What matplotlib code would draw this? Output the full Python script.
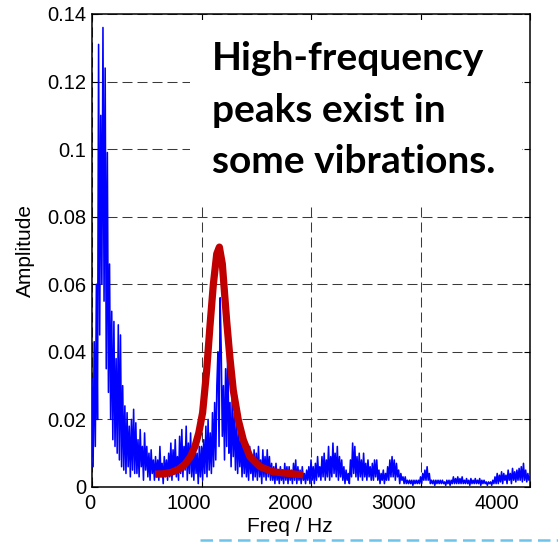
import numpy as np
import matplotlib.pyplot as plt
from matplotlib.patches import Rectangle
from matplotlib.lines import Line2D
import matplotlib.transforms as mtransforms

# spectrum, one value per 10 Hz bin, in units of 1e-3
freq_step = 10
amp_milli = [
    32, 6, 43, 12, 60, 20, 131, 45, 110, 60,
    136, 55, 124, 35, 99, 28, 66, 20, 52, 14,
    49, 12, 38, 10, 48, 8, 45, 6, 30, 5,
    24, 4, 22, 6, 18, 3, 20, 5, 23, 4,
    19, 4, 14, 3, 17, 6, 12, 2, 16, 5,
    12, 3, 10, 2, 11, 4, 8, 2, 9, 3,
    8, 2, 12, 3, 7, 1, 9, 3, 8, 2,
    10, 3, 13, 2, 11, 4, 14, 3, 9, 2,
    15, 4, 17, 3, 12, 5, 18, 2, 13, 4,
    16, 3, 11, 2, 13, 4, 10, 1, 12, 3,
    12, 2, 14, 4, 18, 3, 20, 5, 16, 4,
    22, 6, 25, 8, 30, 40, 12, 56, 40, 15,
    30, 8, 35, 12, 43, 10, 25, 6, 26, 9,
    22, 5, 20, 4, 17, 6, 15, 3, 14, 4,
    12, 3, 10, 2, 12, 4, 9, 2, 11, 3,
    10, 2, 12, 3, 8, 1, 11, 3, 9, 2,
    11, 3, 9, 2, 7, 2, 6, 1, 7, 2,
    5, 1, 6, 2, 5, 1, 7, 2, 6, 1,
    6, 2, 5, 1, 7, 2, 8, 1, 6, 2,
    5, 1, 6, 2, 4, 1, 5, 2, 6, 1,
    8, 2, 6, 1, 7, 2, 9, 3, 6, 2,
    9, 3, 10, 2, 8, 3, 12, 2, 9, 3,
    13, 4, 10, 3, 12, 2, 9, 3, 8, 2,
    6, 1, 5, 2, 4, 1, 8, 3, 13, 4,
    12, 3, 9, 2, 10, 3, 8, 2, 10, 3,
    7, 2, 8, 3, 6, 2, 7, 2, 8, 3,
    8, 2, 5, 1, 4, 2, 5, 1, 4, 2,
    6, 2, 8, 3, 9, 3, 8, 2, 7, 3,
    5, 1, 4, 2, 3, 1, 3, 1, 2, 1,
    2, 1, 2, 0.5, 2, 1, 2, 1, 2, 1,
    3, 1, 4, 2, 5, 2, 6, 2, 4, 1,
    2, 1, 2, 0.5, 2, 1, 2, 1, 2, 1,
    2, 1, 1.5, 0.5, 2, 1, 2, 0.5, 2, 1,
    3, 1, 2.5, 1, 3, 1, 2.5, 1, 3, 1,
    2, 1, 2.5, 1, 2, 0.5, 2.5, 1, 2, 1,
    2.5, 1, 2, 1, 2.5, 0.5, 2, 1, 2, 1,
    1.5, 0.5, 1.5, 1, 1.5, 0.5, 2, 1, 3, 1,
    4, 1, 3.5, 1.5, 4.5, 1, 4, 2, 3.5, 1,
    5, 2, 4, 1, 5.5, 2, 4.5, 1.5, 5, 2,
    5.5, 2, 6, 1.5, 7, 2, 5, 1.5, 4, 2,
    3,
]

# red peak outline drawn over the spectrum
red_freq = [575, 650, 720, 790, 850, 900, 940, 975, 1010, 1047, 1078, 1108,
            1139, 1163, 1190, 1230, 1260, 1290, 1336, 1382, 1443, 1534, 1653,
            1800, 1927]
red_milli = [3.8, 3.9, 4.3, 5.2, 6.8, 9, 12, 16, 22, 34.5, 48, 60,
             69, 71, 66, 49, 38, 28.6, 19.8, 13.9, 8.9, 6, 4.5,
             4.0, 3.6]

x_ticks = [0, 1000, 2000, 3000, 4000]
y_ticks = [0, 0.02, 0.04, 0.06, 0.08, 0.1, 0.12, 0.14]
y_labels = ['0', '0.02', '0.04', '0.06', '0.08', '0.1', '0.12', '0.14']
note_lines = ['High-frequency', 'peaks exist in', 'some vibrations.']

freq = np.arange(len(amp_milli)) * freq_step
amp = np.array(amp_milli) / 1000.0
red_amp = np.array(red_milli) / 1000.0

plt.rcParams['font.family'] = ['Liberation Sans', 'DejaVu Sans']

fig = plt.figure(figsize=(5.58, 5.42), dpi=100)
ax = fig.add_axes([0.1649, 0.1015, 0.785, 0.8727])

ax.plot(freq, amp, color='#0000ff', lw=1.15, zorder=3)
ax.plot(red_freq, red_amp, color='#c00000', lw=5.2, zorder=4,
        solid_capstyle='butt', solid_joinstyle='round')

ax.set_xlim(0, 4000)
ax.set_ylim(0, 0.14)
ax.set_xticks(x_ticks)
ax.set_xticklabels([str(t) for t in x_ticks])
ax.set_yticks(y_ticks)
ax.set_yticklabels(y_labels)
ax.grid(True, color='#3a3a3a', lw=0.75, linestyle=(0, (9.6, 4.8)))
ax.tick_params(direction='in', top=True, right=True, length=4, width=0.8,
               labelsize=14.5, pad=4, colors='black')
ax.tick_params(axis='x', pad=5)
for s in ax.spines.values():
    s.set_linewidth(1.1)
    s.set_color('black')

ax.set_xlabel('Freq / Hz', fontsize=15)
ax.set_ylabel('Amplitude', fontsize=15)
ax.xaxis.set_label_coords(0.452, -0.063)
ax.yaxis.set_label_coords(-0.130, 0.5)

# tick labels in the picture sit a little left of their grid lines
x_shift_px = [-2, -13, -20.5, -27, -33]
for lab, dx in zip(ax.get_xticklabels(), x_shift_px):
    off = mtransforms.ScaledTranslation(dx / 100.0, 0, fig.dpi_scale_trans)
    lab.set_transform(lab.get_transform() + off)

# white text box hiding the grid behind the note
ax.add_patch(Rectangle((0.2237, 0.600), 0.758, 0.387, transform=ax.transAxes,
                       facecolor='white', edgecolor='none', zorder=2.6))
for line, y in zip(note_lines, [0.8816, 0.7717, 0.6638]):
    ax.text(0.274, y, line, transform=ax.transAxes, ha='left', va='baseline',
            fontsize=28, fontweight='bold', family='Lato', zorder=5)

# light dashed rule at the bottom edge of the slide
fig.add_artist(Line2D([200 / 558, 1.0], [2 / 542, 2 / 542],
                      transform=fig.transFigure, color='#6cc4ea', lw=1.8,
                      linestyle=(0, (5, 2.5))))

fig.savefig('out.png', dpi=100)
